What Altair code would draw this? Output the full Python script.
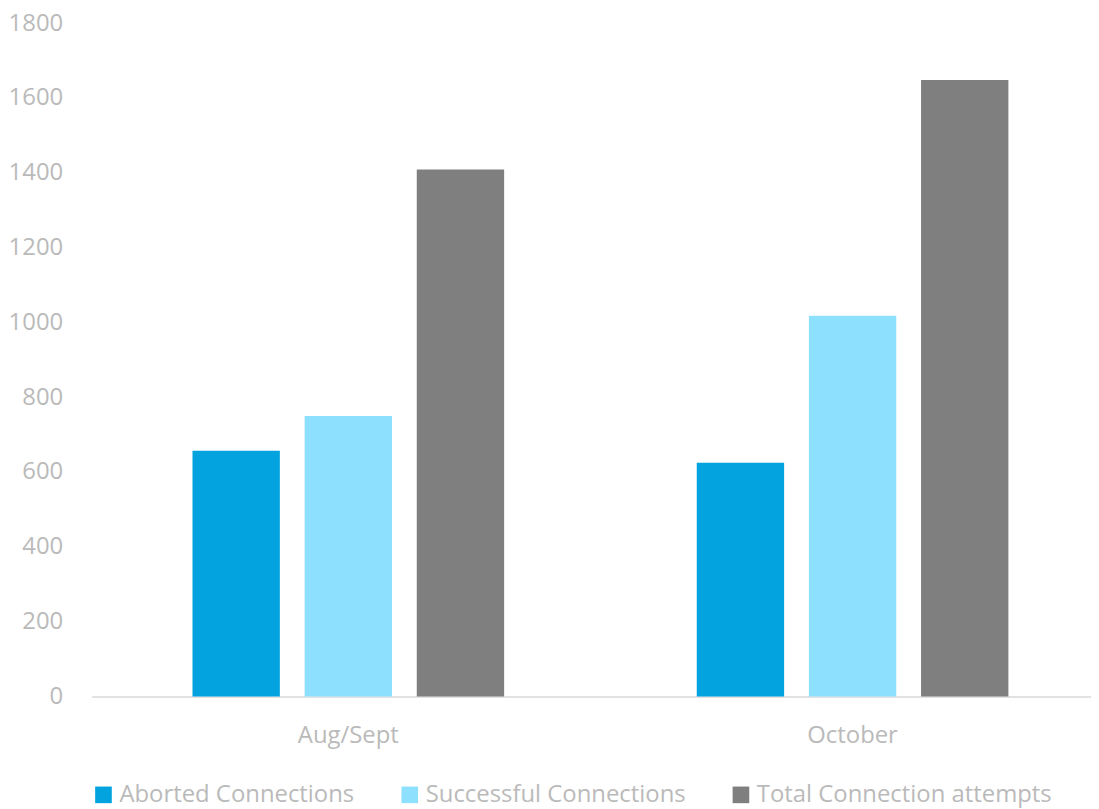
import altair as alt
import pandas as pd

periods = ["Aug/Sept", "October"]
series = ["Aborted Connections", "Successful Connections", "Total Connection attempts"]
aborted = [657, 625]
successful = [750, 1018]
total = [1409, 1648]
colors = ["#03A3E0", "#8EE0FF", "#7F7F7F"]
y_ticks = [0, 200, 400, 600, 800, 1000, 1200, 1400, 1600, 1800]

rows = []
for i, p in enumerate(periods):
    for s, vals in zip(series, [aborted, successful, total]):
        rows.append({"period": p, "series": s, "value": vals[i]})
df = pd.DataFrame(rows)

FONT = "Open Sans"
LBL = "#BABABA"

chart = alt.Chart(df).mark_bar().encode(
    x=alt.X("period:N", sort=periods, title=None,
            scale=alt.Scale(paddingInner=0.382, paddingOuter=0.182, align=0.55),
            axis=alt.Axis(labelAngle=0, labelFontSize=24, labelColor=LBL, labelFont=FONT,
                          ticks=False, domainColor="#D9D9D9",
                          domainWidth=1.5, labelPadding=27)),
    xOffset=alt.XOffset("series:N", sort=series,
                        scale=alt.Scale(paddingInner=0.221, paddingOuter=0)),
    y=alt.Y("value:Q", title=None,
            scale=alt.Scale(domain=[0, 1800]),
            axis=alt.Axis(values=y_ticks, format="d", grid=False, domain=False, ticks=False,
                          labelFontSize=24, labelColor=LBL, labelFont=FONT,
                          labelPadding=29)),
    color=alt.Color("series:N", sort=series,
                    scale=alt.Scale(domain=series, range=colors),
                    legend=alt.Legend(orient="bottom", direction="horizontal", title=None,
                                      symbolType="square", symbolSize=280,
                                      symbolStrokeWidth=0, labelFontSize=24,
                                      labelColor=LBL, labelFont=FONT,
                                      columnPadding=43, labelLimit=400, offset=36)),
).properties(
    width=1005, height=677,
    padding={"left": 0, "top": 1, "right": 0, "bottom": 0},
).configure_view(stroke=None)

chart.save("out.html", embed_options={"renderer": "svg", "actions": False})
